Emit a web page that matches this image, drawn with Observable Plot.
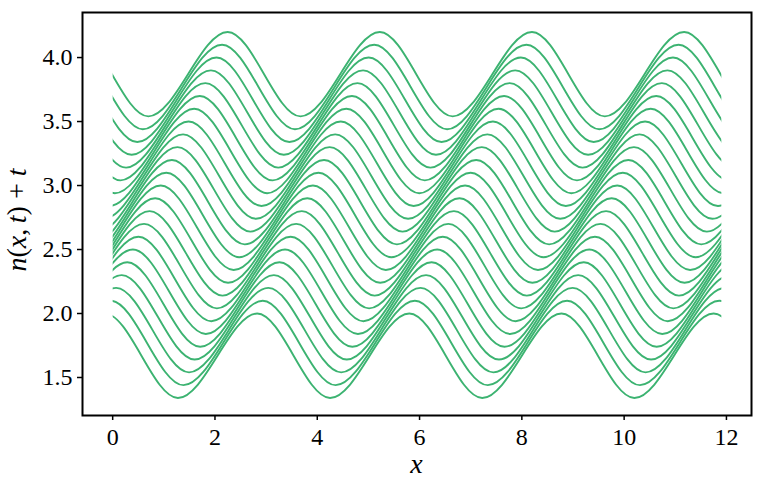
<!DOCTYPE html>
<html>
<head>
<meta charset="utf-8">
<script src="https://cdn.jsdelivr.net/npm/d3@7"></script>
<script src="https://cdn.jsdelivr.net/npm/@observablehq/plot@0.6"></script>
<style>
  body { margin: 0; background: #fff; }
  #chart svg { display: block; }
  #chart svg, #chart svg text, #chart svg tspan { font-family: "Liberation Serif", "Times New Roman", serif !important; }
</style>
</head>
<body>
<div id="chart"></div>
<script>
// One curve per time value t (bottom curve t = 0, top curve t = 2.2)
const tValues = [0.0, 0.1, 0.2, 0.3, 0.4, 0.5, 0.6, 0.7, 0.8, 0.9, 1.0, 1.1,
                 1.2, 1.3, 1.4, 1.5, 1.6, 1.7, 1.8, 1.9, 2.0, 2.1, 2.2];
// crest and trough level of each curve
const crest  = [2.00, 2.10, 2.20, 2.30, 2.40, 2.50, 2.60, 2.70, 2.80, 2.90, 3.00, 3.10,
                3.20, 3.30, 3.40, 3.50, 3.60, 3.70, 3.80, 3.90, 4.00, 4.10, 4.20];
const trough = [1.34, 1.44, 1.54, 1.64, 1.74, 1.84, 1.94, 2.04, 2.14, 2.24, 2.34, 2.44,
                2.54, 2.64, 2.74, 2.84, 2.94, 3.04, 3.14, 3.24, 3.34, 3.44, 3.54];
// does the list of turning points of each curve begin with a crest?
const startsWithCrest = [false, false, true, true, true, true, true, true, true, true, true, true,
                         true, true, true, true, false, false, false, false, false, false, false];
// x position of the successive turning points (crest / trough alternating) of each curve,
// including the turning point just outside each end of the sampled range
const turnX = [
  [-1.700, -0.150, 1.275, 2.825, 4.250, 5.800, 7.225, 8.775, 10.200, 11.750, 13.175, 14.725],
  [-1.591, -0.041, 1.384, 2.934, 4.359, 5.909, 7.334, 8.884, 10.309, 11.859, 13.284, 14.834],
  [-2.907, -1.482, 0.068, 1.493, 3.043, 4.468, 6.018, 7.443, 8.993, 10.418, 11.968, 13.393],
  [-2.798, -1.373, 0.177, 1.602, 3.152, 4.577, 6.127, 7.552, 9.102, 10.527, 12.077, 13.502],
  [-2.689, -1.264, 0.286, 1.711, 3.261, 4.686, 6.236, 7.661, 9.211, 10.636, 12.186, 13.611],
  [-2.580, -1.155, 0.395, 1.820, 3.370, 4.795, 6.345, 7.770, 9.320, 10.745, 12.295, 13.720],
  [-2.471, -1.046, 0.504, 1.929, 3.479, 4.904, 6.454, 7.879, 9.429, 10.854, 12.404, 13.829],
  [-2.362, -0.937, 0.613, 2.038, 3.588, 5.013, 6.563, 7.988, 9.538, 10.963, 12.513, 13.938],
  [-2.253, -0.828, 0.722, 2.147, 3.697, 5.122, 6.672, 8.097, 9.647, 11.072, 12.622, 14.047],
  [-2.144, -0.719, 0.831, 2.256, 3.806, 5.231, 6.781, 8.206, 9.756, 11.181, 12.731, 14.156],
  [-2.035, -0.610, 0.940, 2.365, 3.915, 5.340, 6.890, 8.315, 9.865, 11.290, 12.840, 14.265],
  [-1.926, -0.501, 1.049, 2.474, 4.024, 5.449, 6.999, 8.424, 9.974, 11.399, 12.949, 14.374],
  [-1.817, -0.392, 1.158, 2.583, 4.133, 5.558, 7.108, 8.533, 10.083, 11.508, 13.058, 14.483],
  [-1.708, -0.283, 1.267, 2.692, 4.242, 5.667, 7.217, 8.642, 10.192, 11.617, 13.167, 14.592],
  [-1.599, -0.174, 1.376, 2.801, 4.351, 5.776, 7.326, 8.751, 10.301, 11.726, 13.276, 14.701],
  [-1.490, -0.065, 1.485, 2.910, 4.460, 5.885, 7.435, 8.860, 10.410, 11.835, 13.385, 14.810],
  [-2.931, -1.381, 0.044, 1.594, 3.019, 4.569, 5.994, 7.544, 8.969, 10.519, 11.944, 13.494],
  [-2.822, -1.272, 0.153, 1.703, 3.128, 4.678, 6.103, 7.653, 9.078, 10.628, 12.053, 13.603],
  [-2.713, -1.163, 0.262, 1.812, 3.237, 4.787, 6.212, 7.762, 9.187, 10.737, 12.162, 13.712],
  [-2.604, -1.054, 0.371, 1.921, 3.346, 4.896, 6.321, 7.871, 9.296, 10.846, 12.271, 13.821],
  [-2.495, -0.945, 0.480, 2.030, 3.455, 5.005, 6.430, 7.980, 9.405, 10.955, 12.380, 13.930],
  [-2.386, -0.836, 0.589, 2.139, 3.564, 5.114, 6.539, 8.089, 9.514, 11.064, 12.489, 14.039],
  [-2.277, -0.727, 0.698, 2.248, 3.673, 5.223, 6.648, 8.198, 9.623, 11.173, 12.598, 14.148]
];
// sampled x range of the curves
const xRange = [0, 11.9];
const xTicks = [0, 2, 4, 6, 8, 10, 12];
const yTicks = [1.5, 2.0, 2.5, 3.0, 3.5, 4.0];

const rows = [];
turnX.forEach((xs, i) => {
  xs.forEach((x, j) => {
    const isCrest = (j % 2 === 0) === startsWithCrest[i];
    rows.push({t: tValues[i], x, y: isCrest ? crest[i] : trough[i]});
  });
});

const FONT = "'Liberation Serif', 'Times New Roman', serif";
const plot = Plot.plot({
  width: 764,
  height: 488,
  marginLeft: 82,
  marginRight: 13,
  marginTop: 12,
  marginBottom: 73,
  style: {fontFamily: FONT, fontSize: "24px", color: "black", background: "white"},
  x: {domain: [-0.59, 12.49]},
  y: {domain: [1.203, 4.352]},
  marks: [
    Plot.line(rows, {x: "x", y: "y", z: "t", stroke: "#3cb371", strokeWidth: 1.9, curve: "monotone-x"}),
    Plot.frame({stroke: "black", strokeWidth: 2}),
    Plot.axisX({ticks: xTicks, tickSize: 5, tickPadding: 7, strokeWidth: 1.5, label: null, tickFormat: d => String(d), fontSize: 24}),
    Plot.axisY({ticks: yTicks, tickSize: 5, tickPadding: 5, strokeWidth: 1.5, label: null, tickFormat: d => d.toFixed(1), fontSize: 24})
  ]
});

// clip the curves to their sampled x range
const svgNS = "http://www.w3.org/2000/svg";
const xs = plot.scale("x");
const x0 = xs.apply(xRange[0]), x1 = xs.apply(xRange[1]);
const defs = document.createElementNS(svgNS, "defs");
const cp = document.createElementNS(svgNS, "clipPath");
cp.setAttribute("id", "xrange-clip");
const rect = document.createElementNS(svgNS, "rect");
rect.setAttribute("x", x0); rect.setAttribute("width", x1 - x0);
rect.setAttribute("y", 0); rect.setAttribute("height", 488);
cp.appendChild(rect); defs.appendChild(cp);
plot.insertBefore(defs, plot.firstChild);
const lineGroup = plot.querySelector('g[aria-label="line"]');
if (lineGroup) lineGroup.setAttribute("clip-path", "url(#xrange-clip)");

// axis labels (math style: italic variables)
function addLabel(parts, attrs) {
  const t = document.createElementNS(svgNS, "text");
  for (const [k, v] of Object.entries(attrs)) t.setAttribute(k, v);
  t.setAttribute("font-family", FONT);
  for (const [txt, italic] of parts) {
    const s = document.createElementNS(svgNS, "tspan");
    s.textContent = txt;
    if (italic) s.setAttribute("font-style", "italic");
    t.appendChild(s);
  }
  plot.appendChild(t);
}
const xm = (82 + 751) / 2;
addLabel([["x", true]], {x: xm, y: 473, "text-anchor": "middle", "font-size": 28, fill: "black"});
addLabel([["n", true], ["(", false], ["x", true], [",\u2009", false], ["t", true], [") + ", false], ["t", true]],
  {transform: `translate(26,220) rotate(-90)`, "text-anchor": "middle", "font-size": 28, fill: "black"});

document.getElementById("chart").appendChild(plot);
</script>
</body>
</html>
